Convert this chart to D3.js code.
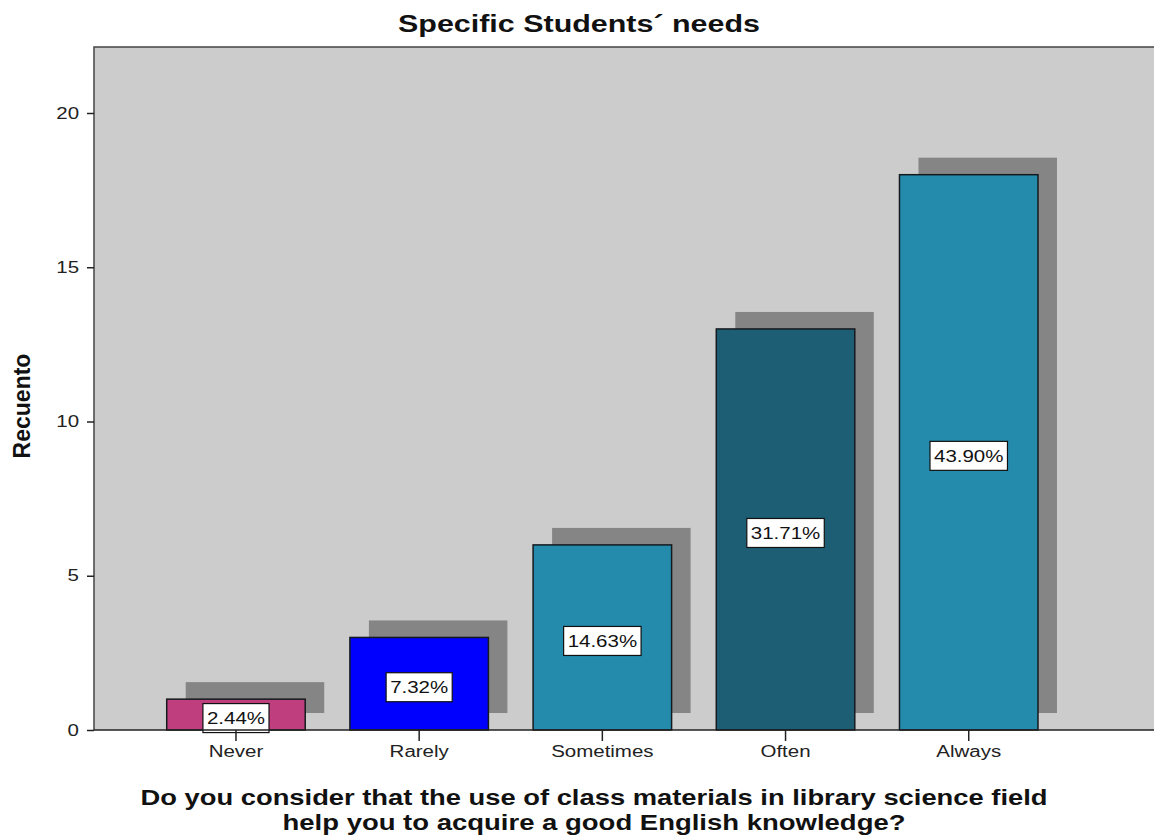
<!DOCTYPE html>
<html>
<head>
<meta charset="utf-8">
<script src="https://cdn.jsdelivr.net/npm/d3@7"></script>
<style>
  body { margin: 0; background: #fff; }
  svg { display: block; font-family: "Liberation Sans", Arial, sans-serif; }
</style>
</head>
<body>
<svg id="chart" width="1154" height="836"></svg>
<script>
// Chart data
const categories = ['Never', 'Rarely', 'Sometimes', 'Often', 'Always'];
const counts = [1, 3, 6, 13, 18];
const pctLabels = ['2.44%', '7.32%', '14.63%', '31.71%', '43.90%'];
const barColors = ['#bf3f7e', '#0000fe', '#248bad', '#1e5e75', '#248bad'];
const yTicks = [0, 5, 10, 15, 20];

const titleText = 'Specific Students\u00b4 needs';
const yTitle = 'Recuento';
const xTitleLines = [
  'Do you consider that the use of class materials in library science field',
  'help you to acquire a good English knowledge?'
];

const plot = { left: 94, top: 47, right: 1154, bottom: 730 };
const stretch = 1.28;   // source image is wider than the font

const svg = d3.select('#chart');

// widen text horizontally like the original picture
function widen(sel, factor) {
  sel.each(function() {
    const len = this.getComputedTextLength();
    d3.select(this)
      .attr('textLength', len * factor)
      .attr('lengthAdjust', 'spacingAndGlyphs');
  });
}

// Scales
const x = d3.scaleBand()
  .domain(categories)
  .range([plot.left, 1110.7])
  .paddingInner(0.244)
  .paddingOuter(0.397);

const y = d3.scaleLinear()
  .domain([0, 20])
  .range([plot.bottom, 113]);

// Plot background
svg.append('rect')
  .attr('x', plot.left)
  .attr('y', plot.top)
  .attr('width', plot.right - plot.left)
  .attr('height', plot.bottom - plot.top)
  .attr('fill', '#cccccc');

svg.append('path')
  .attr('d', `M${plot.left},${plot.bottom}V${plot.top}H${plot.right}`)
  .attr('fill', 'none')
  .attr('stroke', '#444')
  .attr('stroke-width', 1.5);

// Shadows
const shadowDx = 19, shadowDy = -17;
svg.append('g')
  .selectAll('rect')
  .data(counts)
  .join('rect')
  .attr('x', (d, i) => x(categories[i]) + shadowDx)
  .attr('y', d => y(d) + shadowDy)
  .attr('width', x.bandwidth())
  .attr('height', d => y(0) - y(d))
  .attr('fill', '#858585');

// Bars
svg.append('g')
  .selectAll('rect')
  .data(counts)
  .join('rect')
  .attr('x', (d, i) => x(categories[i]))
  .attr('y', d => y(d))
  .attr('width', x.bandwidth())
  .attr('height', d => y(0) - y(d))
  .attr('fill', (d, i) => barColors[i])
  .attr('stroke', '#151a1e')
  .attr('stroke-width', 1.5);

// Percentage labels
const labels = svg.append('g')
  .selectAll('g')
  .data(counts)
  .join('g')
  .attr('transform', (d, i) =>
    `translate(${x(categories[i]) + x.bandwidth() / 2},${(y(d) + y(0)) / 2 + 3.5})`);

labels.append('rect').attr('class', 'box');
labels.append('text')
  .attr('text-anchor', 'middle')
  .attr('dy', '0.36em')
  .attr('font-size', 16)
  .attr('fill', '#111')
  .text((d, i) => pctLabels[i])
  .call(widen, stretch);

labels.each(function() {
  const t = d3.select(this).select('text');
  const w = +t.attr('textLength') + 8;
  d3.select(this).select('rect')
    .attr('x', -w / 2)
    .attr('y', -14.5)
    .attr('width', w)
    .attr('height', 29)
    .attr('fill', '#fff')
    .attr('stroke', '#111')
    .attr('stroke-width', 1.2);
});

// X axis
const xAxis = svg.append('g')
  .attr('transform', `translate(0,${plot.bottom})`)
  .call(d3.axisBottom(x).tickSizeInner(11).tickSizeOuter(0).tickPadding(5));
xAxis.select('.domain')
  .attr('d', `M${plot.left},0H${plot.right}`)
  .attr('stroke', '#222')
  .attr('stroke-width', 1.5);
xAxis.selectAll('.tick line').attr('stroke', '#222').attr('stroke-width', 1.5);
xAxis.selectAll('.tick text')
  .attr('font-size', 16)
  .attr('font-family', '"Liberation Sans", Arial, sans-serif')
  .attr('fill', '#222')
  .call(widen, stretch);

// Y axis
const yAxis = svg.append('g')
  .attr('transform', `translate(${plot.left},0)`)
  .call(d3.axisLeft(y).tickValues(yTicks).tickSizeInner(7).tickSizeOuter(0).tickPadding(8));
yAxis.select('.domain').remove();
yAxis.selectAll('.tick line').attr('stroke', '#222').attr('stroke-width', 1.5);
yAxis.selectAll('.tick text')
  .attr('font-size', 16)
  .attr('font-family', '"Liberation Sans", Arial, sans-serif')
  .attr('fill', '#222')
  .call(widen, stretch);

// Title
svg.append('text')
  .attr('x', 579)
  .attr('y', 32)
  .attr('text-anchor', 'middle')
  .attr('font-size', 23)
  .attr('font-weight', 'bold')
  .attr('fill', '#111')
  .text(titleText)
  .attr('textLength', 362)
  .attr('lengthAdjust', 'spacingAndGlyphs');

// Y title
svg.append('text')
  .attr('transform', 'translate(30,406) rotate(-90)')
  .attr('text-anchor', 'middle')
  .attr('font-size', 23)
  .attr('font-weight', 'bold')
  .attr('fill', '#111')
  .text(yTitle);

// X title
const xTitleWidths = [907, 623];
svg.append('g')
  .selectAll('text')
  .data(xTitleLines)
  .join('text')
  .attr('x', 594)
  .attr('y', (d, i) => 805 + i * 25)
  .attr('text-anchor', 'middle')
  .attr('font-size', 22)
  .attr('font-weight', 'bold')
  .attr('fill', '#111')
  .text(d => d)
  .attr('textLength', (d, i) => xTitleWidths[i])
  .attr('lengthAdjust', 'spacingAndGlyphs');
</script>
</body>
</html>
